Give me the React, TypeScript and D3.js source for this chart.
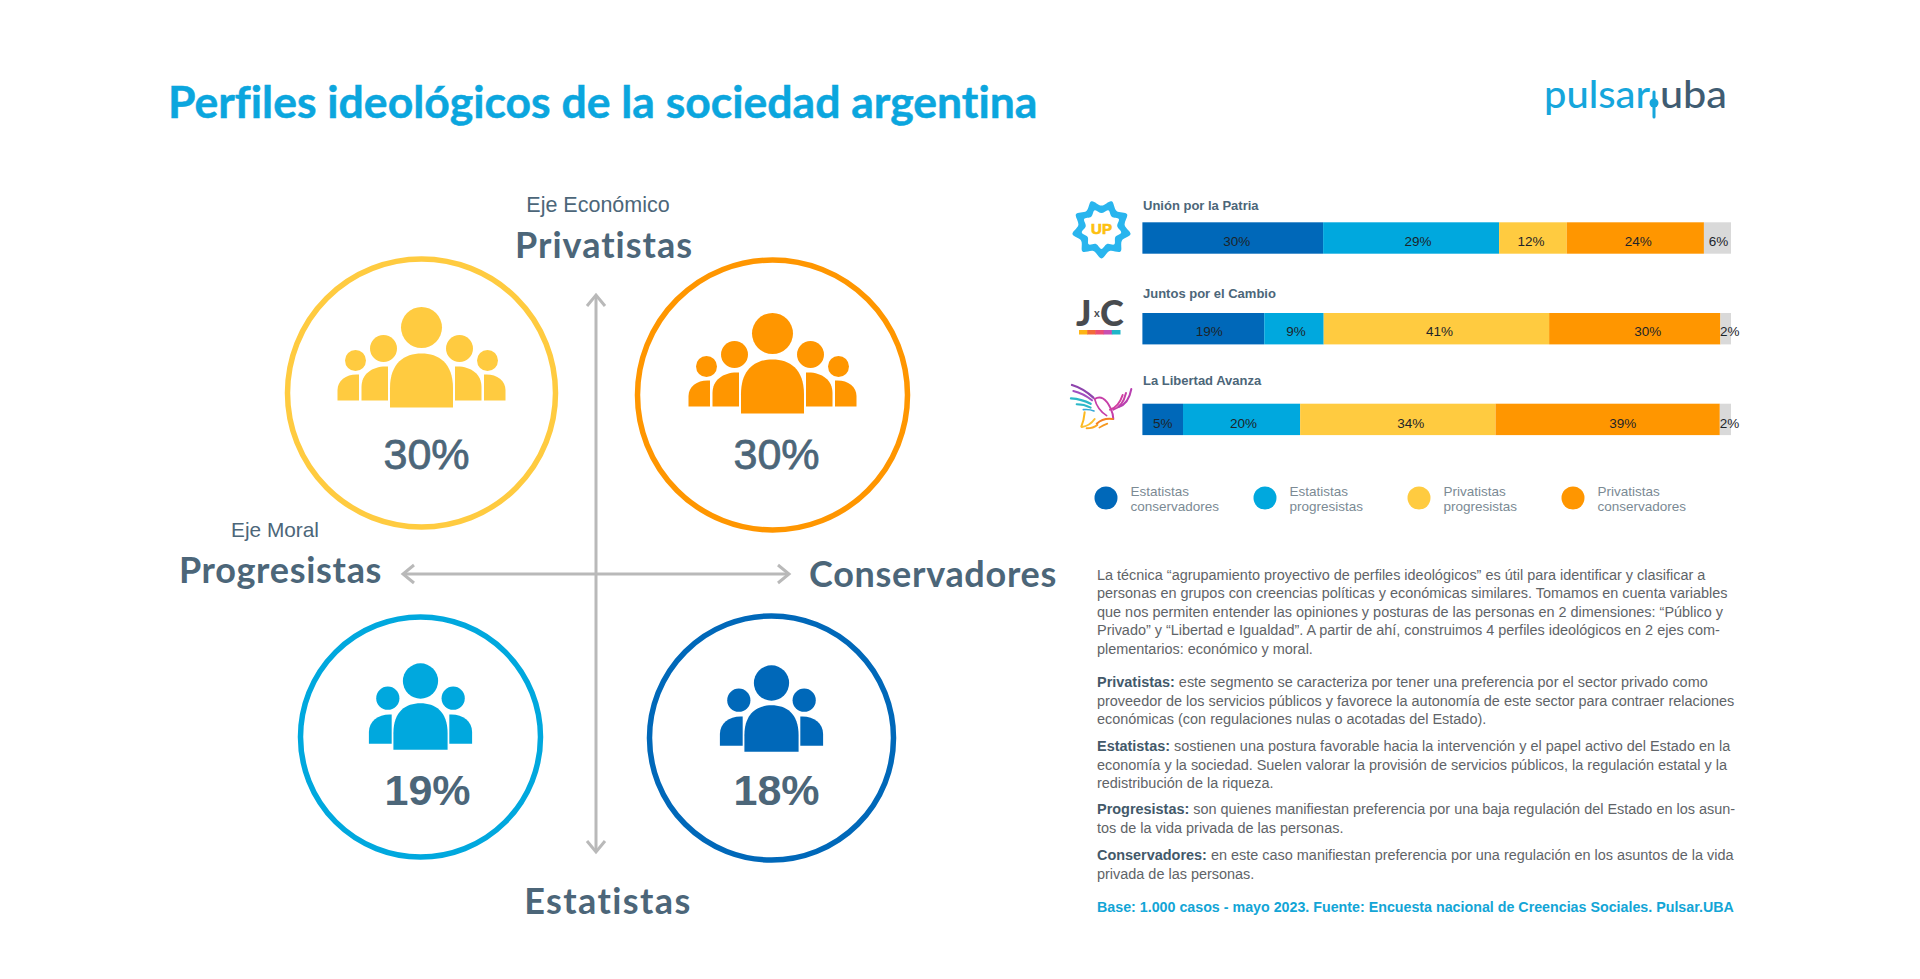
import React from "react";
import * as d3 from "d3";

const TITLE = "Perfiles ideológicos de la sociedad argentina";

// quadrant profiles
const profileNames = ["Privatistas progresistas", "Privatistas conservadores", "Estatistas progresistas", "Estatistas conservadores"];
const profileShares = [30, 30, 19, 18];
const moralAxis = ["Progresistas", "Conservadores"];
const economicAxis = ["Privatistas", "Estatistas"];

// stacked bars
const parties = ["Unión por la Patria", "Juntos por el Cambio", "La Libertad Avanza"];
const barKeys = ["Estatistas conservadores", "Estatistas progresistas", "Privatistas progresistas", "Privatistas conservadores", "Otros"];
const barLabels = [
  ["30%", "29%", "12%", "24%", "6%"],
  ["19%", "9%", "41%", "30%", "2%"],
  ["5%", "20%", "34%", "39%", "2%"],
];
// segment lengths (they differ a bit from the printed labels)
const estatistasConservadores = [30.7, 20.7, 6.9];
const estatistasProgresistas = [29.9, 10.1, 19.9];
const privatistasProgresistas = [11.5, 38.3, 33.2];
const privatistasConservadores = [23.3, 29.1, 38.1];
const otros = [4.6, 1.8, 1.9];

const legendLines = [
  ["Estatistas", "conservadores"],
  ["Estatistas", "progresistas"],
  ["Privatistas", "progresistas"],
  ["Privatistas", "conservadores"],
];

const paragraphs: [string, string[]][] = [
  ["", [
    "La técnica “agrupamiento proyectivo de perfiles ideológicos” es útil para identificar y clasificar a",
    "personas en grupos con creencias políticas y económicas similares. Tomamos en cuenta variables",
    "que nos permiten entender las opiniones y posturas de las personas en 2 dimensiones: “Público y",
    "Privado” y “Libertad e Igualdad”. A partir de ahí, construimos 4 perfiles ideológicos en 2 ejes com-",
    "plementarios: económico y  moral.",
  ]],
  ["Privatistas:", [
    " este segmento se caracteriza por tener una preferencia por el sector privado como",
    "proveedor de los servicios públicos y favorece la autonomía de este sector para contraer relaciones",
    "económicas (con regulaciones nulas o acotadas del Estado).",
  ]],
  ["Estatistas:", [
    " sostienen una postura favorable hacia la intervención y el papel activo del Estado en la",
    "economía y la sociedad. Suelen valorar la provisión de servicios públicos, la regulación estatal y la",
    "redistribución de la riqueza.",
  ]],
  ["Progresistas:", [
    " son quienes manifiestan preferencia por una baja regulación del Estado en los asun-",
    "tos de la vida privada de las personas.",
  ]],
  ["Conservadores:", [
    " en este caso manifiestan preferencia por una regulación en los asuntos de la vida",
    "privada de las personas.",
  ]],
];
const SOURCE = "Base: 1.000 casos - mayo 2023. Fuente: Encuesta nacional de Creencias Sociales. Pulsar.UBA";

const BLUE_DARK = "#0068b9";
const BLUE_LIGHT = "#00a8de";
const YELLOW = "#ffcb40";
const ORANGE = "#ff9600";
const GREY = "#d9d9d9";
const SLATE = "#4c6679";
const AXIS_GREY = "#b9b9b9";
const SANS = "'Liberation Sans', Arial, sans-serif";
const ROUND = "Lato, sans-serif";

const barColor = d3.scaleOrdinal<string, string>().domain(barKeys).range([BLUE_DARK, BLUE_LIGHT, YELLOW, ORANGE, GREY]);
const profileColors = [YELLOW, ORANGE, BLUE_LIGHT, BLUE_DARK];
const PROFILE_RADIUS = [134, 135, 120, 122];
const PROFILE_NUDGE = [[1, -1], [1, 1], [0, -1], [0, 0]];
const ICON_DY = [-65.5, -61.5, -56, -55];
const SHARE_POS = [[5, 75.5], [4, 74], [7, 68], [5, 67]];
const LEGEND_X = [1106, 1265, 1419, 1573];

const x = d3.scaleLinear().domain([0, 100]).range([1142.4, 1731]);
const rowY = d3.scalePoint<string>().domain(parties).range([222.3, 403.7]);
const ROW_H = 31.4;
const PARTY_DY = [-12, -15, -19];
const BAR_LABEL_DY = [24, 23, 24];
// printed labels do not sit quite in the centre of their segments
const LABEL_NUDGE = [
  [4, 7, -2, 3, 1],
  [6, 2, 3, 13, 4],
  [0, 2, 13, 15, 4],
];

const quadX = d3.scalePoint<string>().domain(moralAxis).range([420.5, 771.5]);
const quadY = d3.scalePoint<string>().domain(economicAxis).range([394, 738]);

const stackRows = parties.map((p, i) => ({
  party: p,
  [barKeys[0]]: estatistasConservadores[i],
  [barKeys[1]]: estatistasProgresistas[i],
  [barKeys[2]]: privatistasProgresistas[i],
  [barKeys[3]]: privatistasConservadores[i],
  [barKeys[4]]: otros[i],
}));
const stacked = d3.stack<any>().keys(barKeys)(stackRows);

const domePath = (w: number, t: number, b: number) => {
  const p = d3.path();
  p.moveTo(-w / 2, b);
  p.lineTo(-w / 2, t + w * 0.55);
  p.bezierCurveTo(-w / 2, t + w * 0.15, -w * 0.27, t, 0, t);
  p.bezierCurveTo(w * 0.27, t, w / 2, t + w * 0.15, w / 2, t + w * 0.55);
  p.lineTo(w / 2, b);
  p.closePath();
  return p.toString();
};

const sidePath = (inner: number, outer: number, t: number, b: number) => {
  const p = d3.path();
  p.moveTo(inner, b);
  p.lineTo(inner, t);
  p.bezierCurveTo(inner + (outer - inner) * 0.55, t - 1, outer, t + (b - t) * 0.2, outer, t + (b - t) * 0.6);
  p.lineTo(outer, b);
  p.closePath();
  return p.toString();
};

const People = ({ fill, wide, scale }: { fill: string; wide: boolean; scale: number }) => (
  <g fill={fill} transform={`scale(${scale})`}>
    <circle cx={0} cy={0} r={20.5} />
    <path d={domePath(63, 26, 80)} />
    {[-1, 1].map((s) => (
      <g key={s}>
        <circle cx={s * 38} cy={wide ? 21 : 20} r={13.5} />
        <path d={sidePath(s * 33.5, s * 60, 39, 73)} />
        {wide && <circle cx={s * 66} cy={33} r={10.5} />}
        {wide && <path d={sidePath(s * 62.5, s * 84, 47, 73)} />}
      </g>
    ))}
  </g>
);

const AxisCross = () => {
  const cx = 596;
  const cy = 574;
  const line = d3.line();
  const segs: [number, number][][] = [
    [[cx, 295], [cx, 852]],
    [[403, cy], [789, cy]],
    [[cx - 9, 306], [cx, 295], [cx + 9, 306]],
    [[cx - 9, 841], [cx, 852], [cx + 9, 841]],
    [[414, cy - 9], [403, cy], [414, cy + 9]],
    [[778, cy - 9], [789, cy], [778, cy + 9]],
  ];
  return (
    <g fill="none" stroke={AXIS_GREY} strokeWidth={3}>
      {segs.map((s, i) => <path key={i} d={line(s) || ""} />)}
    </g>
  );
};

const sunPath = (outer: number, inner: number) => {
  const pts: [number, number][] = d3.range(18).map((i) => [
    (i * Math.PI) / 9 + Math.PI / 9,
    i % 2 === 0 ? outer : inner,
  ]);
  return d3.lineRadial().curve(d3.curveCardinalClosed.tension(0))(pts) || "";
};

const UpLogo = () => (
  <g transform="translate(1101.5,229)">
    <path d={sunPath(29.5, 23.5)} fill="#29b5ee" />
    <path d={sunPath(20, 16)} fill="#fff" />
    <text y={5} textAnchor="middle" fontFamily={SANS} fontWeight="bold" fontSize={15} fill="#fdc010" stroke="#fdc010" strokeWidth={0.7}>UP</text>
  </g>
);

const JxcLogo = () => {
  const colors = ["#fdb515", "#f26b38", "#ec4e74", "#c84fb0", "#1fb5c8"];
  const bandX = d3.scaleBand<number>().domain(d3.range(5)).range([1079, 1120]);
  return (
    <g>
      <text x={1076} y={326} fontFamily={ROUND} fontWeight={900} fontSize={36} fill="#484b4f">J</text>
      <text x={1094} y={317} fontFamily={ROUND} fontWeight="bold" fontSize={11} fill="#484b4f">x</text>
      <text x={1100} y={326} fontFamily={ROUND} fontWeight={900} fontSize={36} fill="#484b4f">C</text>
      {colors.map((c, i) => (
        <rect key={c} x={bandX(i)} y={330} width={bandX.bandwidth() + 0.5} height={4.5} fill={c} />
      ))}
    </g>
  );
};

// hand traced bird, in the 3x crop units
const BIRD: [string, string, number][] = [
  ["M36 30 Q70 40 100 68", "#8e44ad", 7],
  ["M40 48 Q70 55 96 76", "#a24fc0", 6],
  ["M33 70 Q65 72 92 86", "#2cb8c8", 7],
  ["M50 88 Q72 88 92 98", "#2cb8c8", 6],
  ["M70 104 Q88 102 102 108", "#35a8d8", 5],
  ["M104 72 Q130 55 152 100 Q160 118 160 132", "#c63fa8", 6],
  ["M104 72 Q112 104 140 122", "#c63fa8", 5],
  ["M150 104 Q176 96 188 60", "#d13fa0", 6],
  ["M160 104 Q188 96 198 54", "#c63fa8", 6],
  ["M176 96 Q206 86 214 42", "#b83fb0", 6],
  ["M74 112 Q72 135 64 155", "#fcb820", 6],
  ["M66 156 Q90 152 104 132", "#fcc030", 6],
  ["M80 160 Q100 160 112 150", "#fca820", 6],
  ["M110 146 Q130 128 158 132", "#f58220", 6],
  ["M118 158 Q130 150 142 146", "#f59820", 5],
];
const BirdLogo = () => (
  <g transform="translate(1060,375) scale(0.3333)" fill="none" strokeLinecap="round">
    {BIRD.map(([d, c, w], i) => <path key={i} d={d} stroke={c} strokeWidth={w} />)}
  </g>
);

const PulsarLogo = () => (
  <g fontFamily={ROUND} fontSize={39} fontWeight={500}>
    <text x={1544} y={108} fill="#16a6dc" textLength={106} lengthAdjust="spacingAndGlyphs">pulsar</text>
    <text x={1660} y={108} fill="#3f5c72" textLength={67} lengthAdjust="spacingAndGlyphs">uba</text>
    <line x1={1654} x2={1654} y1={92} y2={117} stroke="#16a6dc" strokeWidth={3} strokeLinecap="round" />
    <circle cx={1654} cy={103} r={4.5} fill="#16a6dc" />
  </g>
);

const AXIS_TEXT = { fontFamily: ROUND, fontWeight: 700, fontSize: 36, fill: SLATE, letterSpacing: 0.7 } as const;

const App = () => {
  const profiles = profileNames.map((name, i) => ({
    name,
    share: profileShares[i],
    color: profileColors[i],
    cx: quadX(moralAxis[i % 2])!,
    cy: quadY(economicAxis[i < 2 ? 0 : 1])!,
  }));

  let bodyY = 574.5;
  const paraGap = [0, 33, 27, 26, 27];
  const LEADING = 18.6;

  return (
    <svg width={1920} height={979} style={{ position: "absolute", left: 0, top: 0, display: "block", background: "#fff" }}>
      <text x={168} y={118} fontFamily={ROUND} fontWeight={700} fontSize={44.5} fill="#0ba6de" stroke="#0ba6de" strokeWidth={0.5} style={{ fontVariantLigatures: "none" }}>{TITLE}</text>
      <PulsarLogo />

      <AxisCross />
      <text x={598} y={212} textAnchor="middle" fontFamily={SANS} fontSize={21.5} fill={SLATE}>Eje Económico</text>
      <text x={275} y={537} textAnchor="middle" fontFamily={SANS} fontSize={20.8} fill={SLATE}>Eje Moral</text>
      <text x={604} y={258} textAnchor="middle" {...AXIS_TEXT} letterSpacing={1}>{economicAxis[0]}</text>
      <text x={608} y={914} textAnchor="middle" {...AXIS_TEXT} letterSpacing={1.4}>{economicAxis[1]}</text>
      <text x={280.5} y={583} textAnchor="middle" {...AXIS_TEXT}>{moralAxis[0]}</text>
      <text x={933} y={587} textAnchor="middle" {...AXIS_TEXT}>{moralAxis[1]}</text>

      {profiles.map((d, i) => (
        <g key={d.name} transform={`translate(${d.cx + PROFILE_NUDGE[i][0]},${d.cy + PROFILE_NUDGE[i][1]})`}>
          <circle r={PROFILE_RADIUS[i]} fill="none" stroke={d.color} strokeWidth={5.5} />
          <g transform={`translate(0,${ICON_DY[i]})`}>
            <People fill={d.color} wide={i < 2} scale={i < 2 ? 1 : 0.86} />
          </g>
          <text x={SHARE_POS[i][0]} y={SHARE_POS[i][1]} textAnchor="middle" fontFamily={SANS} fontSize={43} fontWeight={i < 2 ? 400 : 700} stroke={i < 2 ? SLATE : "none"} strokeWidth={0.8} fill={SLATE}>{d.share}%</text>
        </g>
      ))}

      <UpLogo />
      <JxcLogo />
      <BirdLogo />

      {parties.map((p, i) => (
        <text key={p} x={1143} y={rowY(p)! + PARTY_DY[i]} fontFamily={SANS} fontWeight="bold" fontSize={13} fill={SLATE}>{p}</text>
      ))}
      {stacked.map((series) => (
        <g key={series.key} fill={barColor(series.key)}>
          {series.map((seg, i) => (
            <rect key={i} x={x(seg[0])} y={rowY(parties[i])} width={x(seg[1]) - x(seg[0])} height={ROW_H} />
          ))}
        </g>
      ))}
      {stacked.map((series, k) => series.map((seg, i) => (
        <text key={`${k}_${i}`} x={(x(seg[0]) + x(seg[1])) / 2 + LABEL_NUDGE[i][k]} y={rowY(parties[i])! + BAR_LABEL_DY[i]} textAnchor="middle" fontFamily={SANS} fontSize={13.5} fill="#1d2429">
          {barLabels[i][k]}
        </text>
      )))}

      {legendLines.map((lines, i) => (
        <g key={i} transform={`translate(${LEGEND_X[i]},498)`}>
          <circle r={11.5} fill={barColor(barKeys[i])} />
          <text x={24.5} y={-2} fontFamily={SANS} fontSize={13.5} fill="#7b8a94">{lines[0]}</text>
          <text x={24.5} y={13} fontFamily={SANS} fontSize={13.5} fill="#7b8a94">{lines[1]}</text>
        </g>
      ))}

      <g fontFamily={SANS} fontSize={14.45} fill="#5f6468">
        {paragraphs.map(([head, lines], pi) => {
          if (pi > 0) bodyY += paraGap[pi] - LEADING;
          return lines.map((line, li) => {
            const y = bodyY + 5;
            bodyY += LEADING;
            return (
              <text key={`${pi}_${li}`} x={1097} y={y}>
                {li === 0 && head && <tspan fontWeight="bold" fill="#43596a">{head}</tspan>}
                {line}
              </text>
            );
          });
        })}
        <text x={1097} y={912} fontWeight="bold" fontSize={14.25} fill="#12a5d6">{SOURCE}</text>
      </g>
    </svg>
  );
};

export default App;
